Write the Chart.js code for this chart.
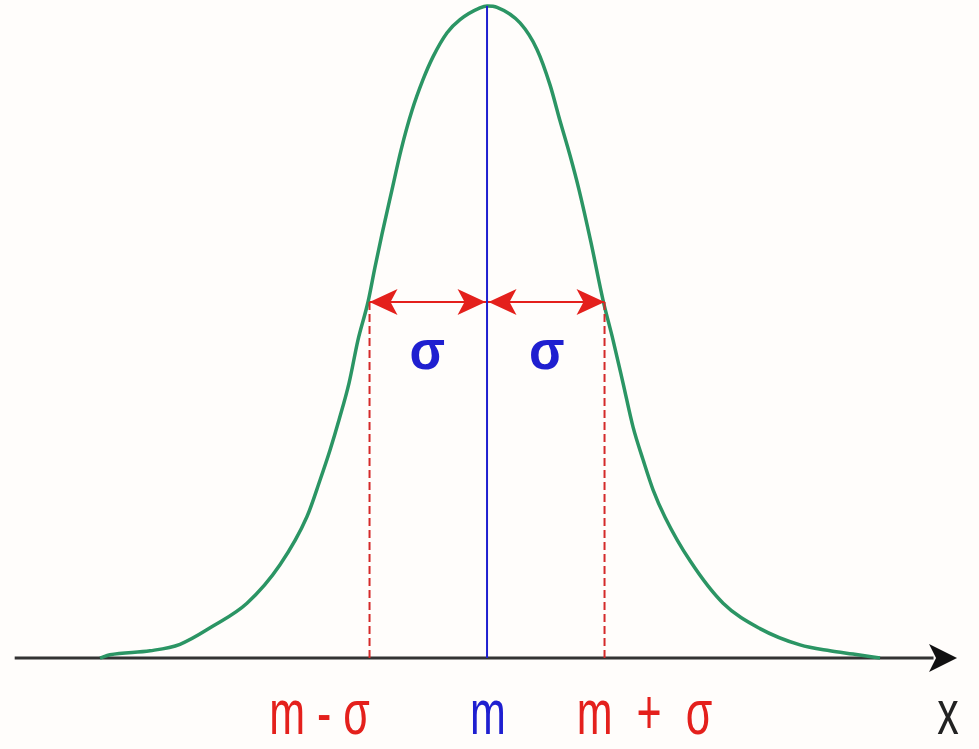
<!DOCTYPE html>
<html><head><meta charset="utf-8">
<script src="https://cdn.jsdelivr.net/npm/chart.js@4/dist/chart.umd.min.js"></script>
<style>html,body{margin:0;padding:0;background:#fffdfb;} #wrap{width:979px;height:749px;}</style>
</head><body><div id="wrap"><canvas id="c" width="979" height="749"></canvas></div>
<script>
// Curve (x in units of sigma from the mean, y relative to peak)
const curveX = [-3.294,-3.209,-2.868,-2.613,-2.332,-2.043,-1.762,-1.532,-1.421,-1.336,-1.260,-1.174,-1.098,-1.013,-0.953,-0.894,-0.809,-0.732,-0.638,-0.545,-0.460,-0.340,-0.230,-0.060,0,0.085,0.281,0.426,0.536,0.621,0.706,0.783,0.885,0.987,1.072,1.157,1.243,1.328,1.413,1.515,1.728,2.009,2.323,2.664,2.919,3.115,3.345];
const curveY = [0,0.005,0.011,0.021,0.049,0.084,0.143,0.217,0.273,0.319,0.365,0.422,0.488,0.546,0.600,0.650,0.718,0.779,0.840,0.887,0.922,0.959,0.979,0.997,1.000,0.998,0.974,0.933,0.879,0.824,0.771,0.718,0.637,0.549,0.488,0.422,0.354,0.304,0.258,0.216,0.149,0.084,0.045,0.020,0.011,0.006,0];
const meanX = 0;
const peakY = 1.0;
const sigmaX = [-1, 1];
const sigmaLevel = 0.546;
const axisRange = [-4.02, 4.0];
const tickLabels = ['m - σ', 'm', 'm + σ'];
const tickValues = [-1, 0, 1];
const sigmaLabel = 'σ';
const axisLabel = 'x';

const GREEN = '#2b9564', BLUE = '#1f1fd0', RED = '#e4201c', AXIS = '#333333';

function arrowHead(ctx, tipX, tipY, dir, len, half, notch, color) {
  ctx.save();
  ctx.fillStyle = color;
  ctx.beginPath();
  ctx.moveTo(tipX, tipY);
  ctx.lineTo(tipX - dir * len, tipY - half);
  ctx.lineTo(tipX - dir * (len - notch), tipY);
  ctx.lineTo(tipX - dir * len, tipY + half);
  ctx.closePath();
  ctx.fill();
  ctx.restore();
}
function stretchedText(ctx, text, x, base, font, color, sy, spacing) {
  ctx.save();
  ctx.translate(x, base);
  ctx.scale(1, sy);
  ctx.font = font;
  ctx.fillStyle = color;
  ctx.textAlign = 'center';
  ctx.textBaseline = 'alphabetic';
  if (spacing) ctx.letterSpacing = spacing + 'px';
  ctx.fillText(text, spacing ? spacing / 2 : 0, 0);
  ctx.restore();
}

const decor = {
  id: 'decor',
  beforeDraw(chart) {
    const ctx = chart.ctx;
    ctx.save(); ctx.fillStyle = '#fffdfb'; ctx.fillRect(0, 0, chart.width, chart.height); ctx.restore();
  },
  afterDatasetsDraw(chart) {
    const ctx = chart.ctx, xs = chart.scales.x, ys = chart.scales.y;
    const y0 = ys.getPixelForValue(0);
    arrowHead(ctx, xs.getPixelForValue(axisRange[1]), y0, 1, 28, 14, 7, '#111');
    const yl = ys.getPixelForValue(sigmaLevel);
    const pm = xs.getPixelForValue(meanX);
    sigmaX.forEach(v => {
      const p = xs.getPixelForValue(v);
      const d = Math.sign(v);
      arrowHead(ctx, p, yl, d, 28, 13, 7, RED);
      arrowHead(ctx, pm + d * 1.5, yl, -d, 28, 13, 7, RED);
      stretchedText(ctx, sigmaLabel, (p + pm) / 2 + d * 1, yl + 67, 'bold 52px "Liberation Sans", Arial, sans-serif', BLUE, 1.08, 0);
    });
    const offs = [-50, 1, 40];
    const cols = [RED, BLUE, RED];
    const spc = [0, 0, 6];
    tickValues.forEach((v, i) => {
      stretchedText(ctx, tickLabels[i], xs.getPixelForValue(v) + offs[i], y0 + 76, '43px "Liberation Sans", Arial, sans-serif', cols[i], 1.45, spc[i]);
    });
    stretchedText(ctx, axisLabel, xs.getPixelForValue(axisRange[1]) - 9, y0 + 76, '43px "Liberation Sans", Arial, sans-serif', '#222', 1.45, 0);
  }
};

new Chart(document.getElementById('c'), {
  type: 'line',
  data: {
    datasets: [
      { data: [{x: axisRange[0], y: 0}, {x: axisRange[1] - 0.2, y: 0}], borderColor: AXIS, borderWidth: 3, pointRadius: 0, order: 5 },
      { data: curveX.map((x, i) => ({x, y: curveY[i]})), borderColor: GREEN, borderWidth: 3.5, pointRadius: 0, cubicInterpolationMode: 'monotone', order: 4 },
      { data: [{x: sigmaX[0], y: 0}, {x: sigmaX[0], y: sigmaLevel}], borderColor: '#d42a2a', borderWidth: 2, borderDash: [8, 4], pointRadius: 0, order: 3 },
      { data: [{x: sigmaX[1], y: 0}, {x: sigmaX[1], y: sigmaLevel}], borderColor: '#d42a2a', borderWidth: 2, borderDash: [8, 4], pointRadius: 0, order: 3 },
      { data: [{x: sigmaX[0], y: sigmaLevel}, {x: sigmaX[1], y: sigmaLevel}], borderColor: RED, borderWidth: 2, pointRadius: 0, order: 2 },
      { data: [{x: meanX, y: 0}, {x: meanX, y: peakY}], borderColor: BLUE, borderWidth: 2, pointRadius: 0, order: 1 }
    ]
  },
  options: {
    responsive: false, animation: false, devicePixelRatio: 1,
    layout: { padding: 0 },
    plugins: { legend: { display: false }, tooltip: { enabled: false } },
    scales: {
      x: { type: 'linear', display: false, min: -4.145, max: 4.187 },
      y: { type: 'linear', display: false, min: -0.1396, max: 1.0092 }
    }
  },
  plugins: [decor]
});
</script></body></html>
